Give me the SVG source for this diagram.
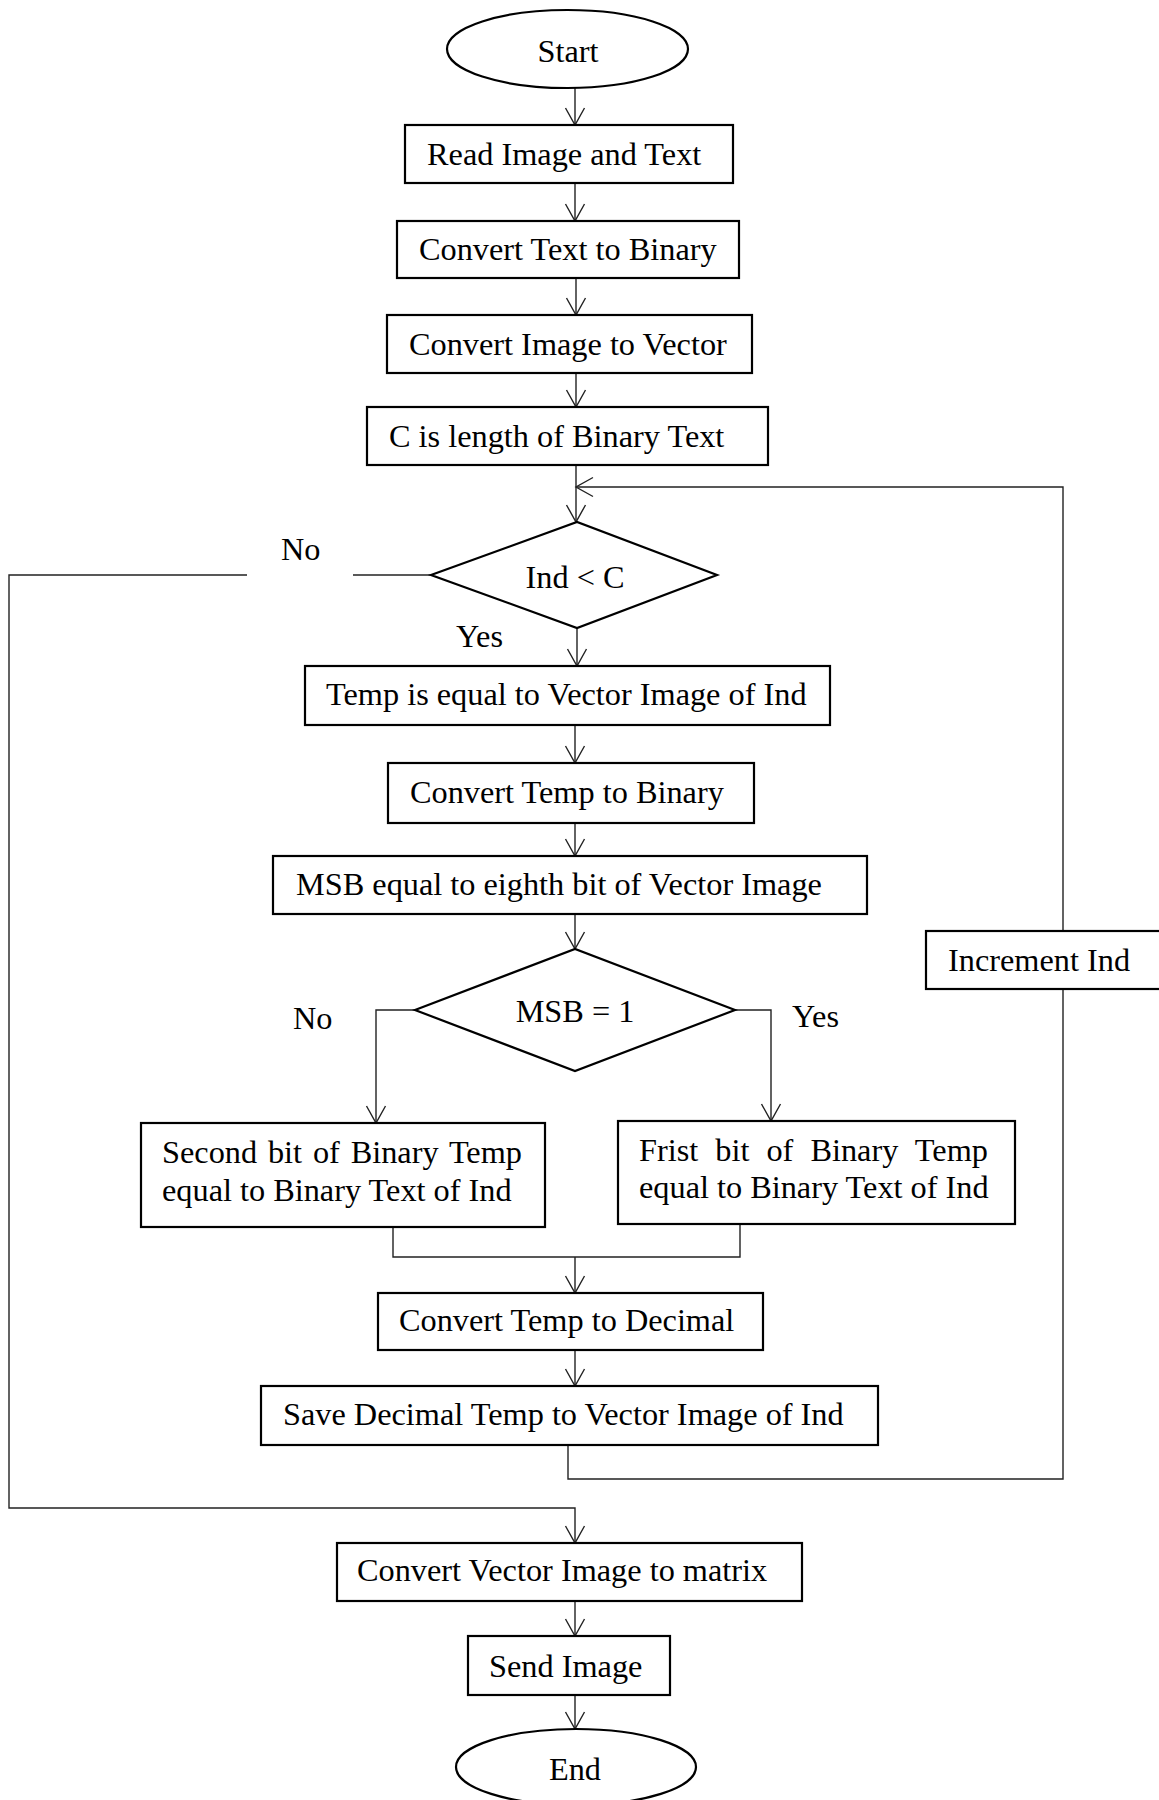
<svg xmlns="http://www.w3.org/2000/svg" width="1159" height="1800" viewBox="0 0 1159 1800">
<style>
.box{fill:#fff;stroke:#000;stroke-width:2.2}
.t{font-family:"Liberation Serif","Times New Roman",serif;font-size:32.3px;fill:#000}
.c{text-anchor:middle}
.ln{fill:none;stroke:#222;stroke-width:1.4}
</style>
<defs>
<marker id="ah" markerUnits="userSpaceOnUse" viewBox="-20 -12 22 24" markerWidth="22" markerHeight="24" refX="0" refY="0" orient="auto" overflow="visible">
<path d="M-17,-9.5 L0,0 L-17,9.5" fill="none" stroke="#222" stroke-width="1.4"/>
</marker>
</defs>
<rect width="1159" height="1800" fill="#fff"/>
<g id="connectors">
<line class="ln" x1="575" y1="88" x2="575" y2="125" marker-end="url(#ah)"/>
<line class="ln" x1="575" y1="183" x2="575" y2="221" marker-end="url(#ah)"/>
<line class="ln" x1="576" y1="278" x2="576" y2="315" marker-end="url(#ah)"/>
<line class="ln" x1="576" y1="373" x2="576" y2="407" marker-end="url(#ah)"/>
<line class="ln" x1="576" y1="465" x2="576" y2="522" marker-end="url(#ah)"/>
<line class="ln" x1="431" y1="575" x2="353" y2="575"/>
<polyline class="ln" points="247,575 9,575 9,1508 575,1508 575,1543" marker-end="url(#ah)"/>
<line class="ln" x1="577" y1="628" x2="577" y2="666" marker-end="url(#ah)"/>
<line class="ln" x1="575" y1="725" x2="575" y2="763" marker-end="url(#ah)"/>
<line class="ln" x1="575" y1="823" x2="575" y2="856" marker-end="url(#ah)"/>
<line class="ln" x1="575" y1="914" x2="575" y2="949" marker-end="url(#ah)"/>
<polyline class="ln" points="415,1010 376,1010 376,1123" marker-end="url(#ah)"/>
<polyline class="ln" points="735,1010 771,1010 771,1121" marker-end="url(#ah)"/>
<polyline class="ln" points="393,1227 393,1257 740,1257 740,1224"/>
<line class="ln" x1="575" y1="1257" x2="575" y2="1293" marker-end="url(#ah)"/>
<line class="ln" x1="575" y1="1350" x2="575" y2="1386" marker-end="url(#ah)"/>
<polyline class="ln" points="568,1445 568,1479 1063,1479 1063,989"/>
<polyline class="ln" points="1063,931 1063,487 576,487" marker-end="url(#ah)"/>
<line class="ln" x1="575" y1="1601" x2="575" y2="1636" marker-end="url(#ah)"/>
<line class="ln" x1="575" y1="1695" x2="575" y2="1729" marker-end="url(#ah)"/>
</g>
<g id="labels">
<text class="t" x="281" y="560">No</text>
<text class="t" x="456" y="647">Yes</text>
<text class="t" x="293" y="1029">No</text>
<text class="t" x="792" y="1027">Yes</text>
</g>
<g id="start"><ellipse class="box" cx="567.5" cy="49" rx="120.5" ry="39"/><text class="t c" x="568" y="62">Start</text></g>
<g id="read"><rect class="box" x="405" y="125" width="328" height="58"/><text class="t" x="427" y="165">Read Image and Text</text></g>
<g id="text2bin"><rect class="box" x="397" y="221" width="342" height="57"/><text class="t" x="419" y="260">Convert Text to Binary</text></g>
<g id="img2vec"><rect class="box" x="387" y="315" width="365" height="58"/><text class="t" x="409" y="355">Convert Image to Vector</text></g>
<g id="clen"><rect class="box" x="367" y="407" width="401" height="58"/><text class="t" x="389" y="447">C is length of Binary Text</text></g>
<g id="indc"><polygon class="box" points="431,575 577,522 717,575 577,628"/><text class="t c" x="575" y="588">Ind &lt; C</text></g>
<g id="temp"><rect class="box" x="305" y="666" width="525" height="59"/><text class="t" x="326" y="705">Temp is equal to Vector Image of Ind</text></g>
<g id="temp2bin"><rect class="box" x="388" y="763" width="366" height="60"/><text class="t" x="410" y="803">Convert Temp to Binary</text></g>
<g id="msb"><rect class="box" x="273" y="856" width="594" height="58"/><text class="t" x="296" y="895">MSB equal to eighth bit of Vector Image</text></g>
<g id="msbdec"><polygon class="box" points="415,1010 575,949 735,1010 575,1071"/><text class="t c" x="575" y="1022">MSB = 1</text></g>
<g id="second"><rect class="box" x="141" y="1123" width="404" height="104"/><text class="t" x="162" y="1163" word-spacing="2.8">Second bit of Binary Temp</text><text class="t" x="162" y="1201">equal to Binary Text of Ind</text></g>
<g id="first"><rect class="box" x="618" y="1121" width="397" height="103"/><text class="t" x="639" y="1161" word-spacing="9">Frist bit of Binary Temp</text><text class="t" x="639" y="1198">equal to Binary Text of Ind</text></g>
<g id="temp2dec"><rect class="box" x="378" y="1293" width="385" height="57"/><text class="t" x="399" y="1331">Convert Temp to Decimal</text></g>
<g id="save"><rect class="box" x="261" y="1386" width="617" height="59"/><text class="t" x="283" y="1425">Save Decimal Temp to Vector Image of Ind</text></g>
<g id="increment"><rect class="box" x="926" y="931" width="245" height="58"/><text class="t" x="948" y="971">Increment Ind</text></g>
<g id="vec2mat"><rect class="box" x="337" y="1543" width="465" height="58"/><text class="t" x="357" y="1581">Convert Vector Image to matrix</text></g>
<g id="send"><rect class="box" x="468" y="1636" width="202" height="59"/><text class="t" x="489" y="1677">Send Image</text></g>
<g id="end"><ellipse class="box" cx="576" cy="1767" rx="120" ry="38"/><text class="t c" x="575" y="1780">End</text></g>
</svg>
